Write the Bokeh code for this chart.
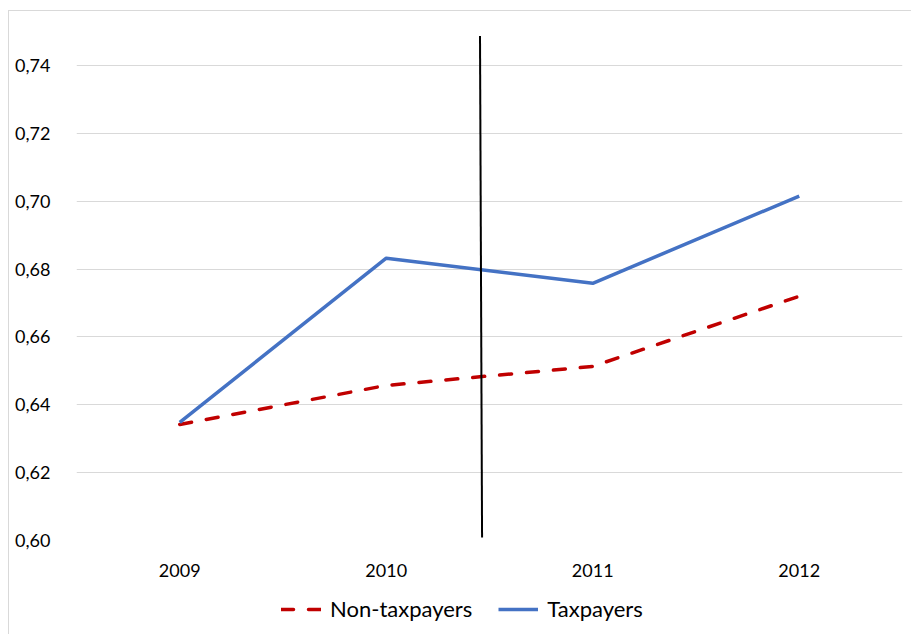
from bokeh.plotting import figure
from bokeh.layouts import column
from bokeh.models import FixedTicker, Legend, LegendItem
from bokeh.embed import file_html
from bokeh.resources import INLINE

# Series values by year
years = ["2009", "2010", "2011", "2012"]
non_taxpayers = [0.6342, 0.6457, 0.6513, 0.6720]
taxpayers = [0.6348, 0.6832, 0.6758, 0.7015]

# Y axis tick values and their labels (decimal comma)
y_ticks = [0.60, 0.62, 0.64, 0.66, 0.68, 0.70, 0.72, 0.74]
y_tick_labels = ["0,60", "0,62", "0,64", "0,66", "0,68", "0,70", "0,72", "0,74"]

# Vertical break marker between 2010 and 2011
break_x = [1.454, 1.464]
break_y = [0.7487, 0.6009]

FONT = "Lato"
RED = "#C00000"
BLUE = "#4472C4"
DASH = "12 15"
LW = 3.5
xs = list(range(len(years)))

p = figure(
    width=902, height=569,
    x_range=(-0.5, 3.5), y_range=(0.60, 0.75),
    output_backend="svg", toolbar_location=None,
    min_border_left=67, min_border_right=9,
    min_border_top=20, min_border_bottom=40,
)
p.outline_line_color = None
p.background_fill_color = "white"
p.border_fill_color = "white"

# Axes
p.xaxis.ticker = FixedTicker(ticks=xs)
p.xaxis.major_label_overrides = {i: y for i, y in enumerate(years)}
p.yaxis.ticker = FixedTicker(ticks=y_ticks)
p.yaxis.major_label_overrides = {t: l for t, l in zip(y_ticks, y_tick_labels)}
for ax in (p.xaxis, p.yaxis):
    ax.axis_line_color = None
    ax.major_tick_line_color = None
    ax.minor_tick_line_color = None
    ax.major_label_text_font = FONT
    ax.major_label_text_font_size = "18px"
    ax.major_label_text_color = "#000000"
p.yaxis.major_label_standoff = 20
p.xaxis.major_label_standoff = 17

p.xgrid.grid_line_color = None
p.ygrid.ticker = FixedTicker(ticks=y_ticks)
p.ygrid.grid_line_color = "#d9d9d9"
p.ygrid.grid_line_width = 1

# Series lines
p.line(xs, non_taxpayers, line_color=RED, line_width=LW, line_dash=DASH,
       line_cap="round", line_join="round")
p.line(xs, taxpayers, line_color=BLUE, line_width=LW, line_join="round")

# Break marker
p.line(break_x, break_y, line_color="#000000", line_width=2)

# Legend strip under the chart (no axes, so the frame fills the strip)
leg = figure(
    width=902, height=54, x_range=(0, 1), y_range=(0, 1),
    output_backend="svg", toolbar_location=None,
    x_axis_location=None, y_axis_location=None,
    min_border=0,
)
leg.grid.visible = False
leg.outline_line_color = None
leg.border_fill_color = "white"
leg.background_fill_color = "white"
k_non = leg.line([0, 0], [-1, -1], line_color=RED, line_width=LW,
                 line_dash=DASH, line_cap="round")
k_tax = leg.line([0, 0], [-1, -1], line_color=BLUE, line_width=LW)

legend = Legend(
    items=[LegendItem(label="Non-taxpayers", renderers=[k_non]),
           LegendItem(label="Taxpayers", renderers=[k_tax])],
    orientation="horizontal",
    location=(205, 12),
    label_text_font=FONT, label_text_font_size="22px",
    label_text_color="#000000",
    glyph_width=40, spacing=26, label_standoff=9,
    padding=2, margin=0,
    border_line_color=None, background_fill_alpha=0,
)
leg.add_layout(legend, "center")

layout = column(p, leg, spacing=0)
layout.styles = {
    "margin-left": "8px", "margin-top": "10px",
    "border-left": "1px solid #d9d9d9", "border-top": "1px solid #d9d9d9",
}

open("out.html", "w").write(file_html(layout, INLINE))
